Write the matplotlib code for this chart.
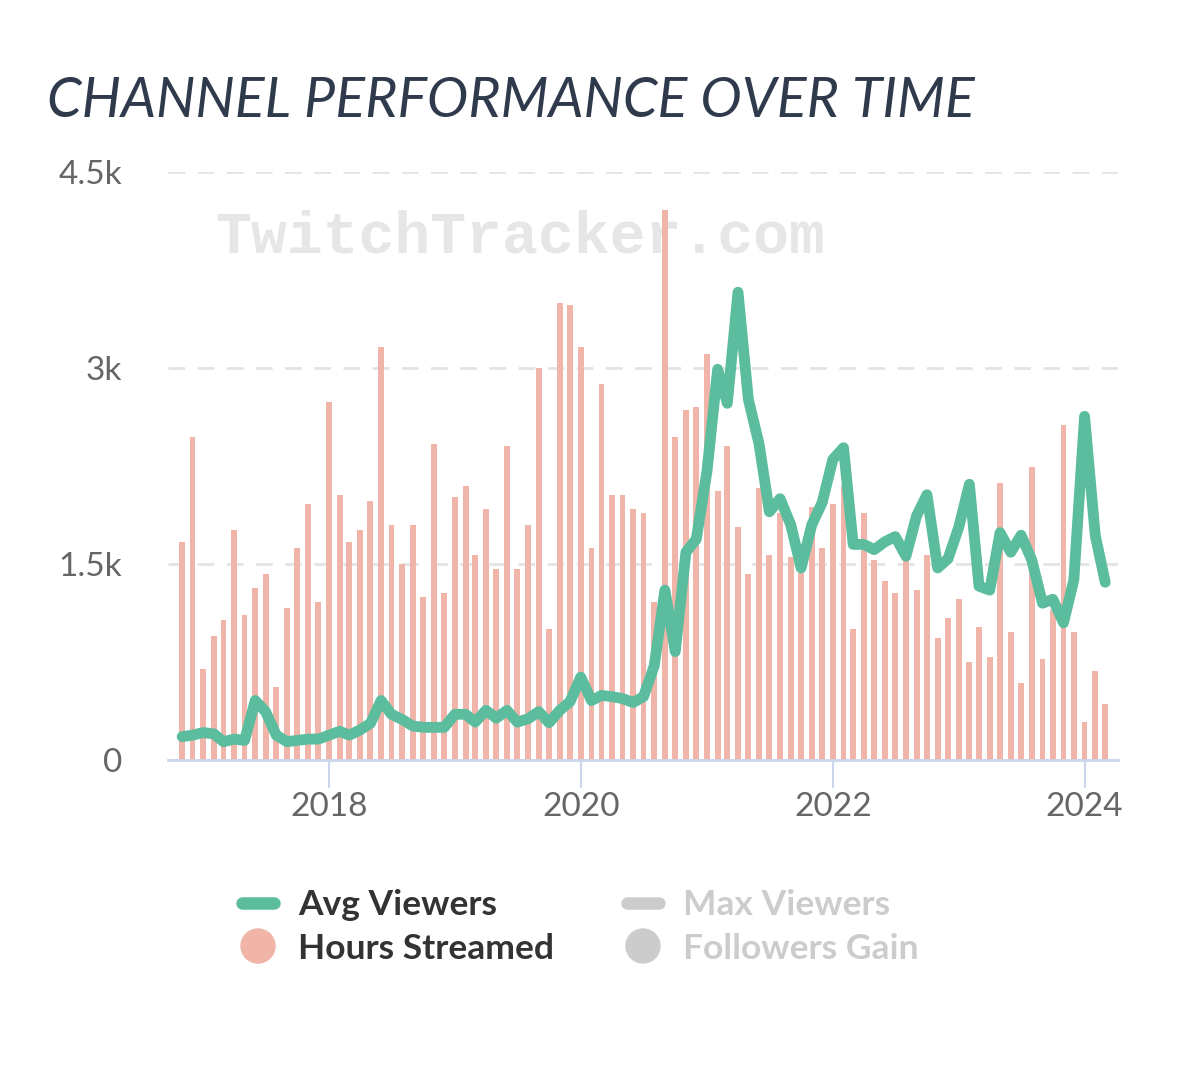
import matplotlib
matplotlib.use('Agg')
import matplotlib.pyplot as plt
import matplotlib.dates as mdates
from matplotlib.lines import Line2D
from matplotlib.patches import Ellipse
import pandas as pd
import datetime as dt

plt.rcParams['font.family'] = ['Lato', 'DejaVu Sans']

# monthly data, Nov 2016 .. Mar 2024
months = pd.date_range('2016-11-01', periods=89, freq='MS')
avg_viewers = [179, 190, 210, 200, 140, 160, 150, 455, 370, 190, 140, 150, 160, 160,
               190, 220, 190, 230, 280, 455, 350, 310, 260, 250, 250, 250, 350, 350,
               290, 380, 320, 380, 290, 315, 370, 285, 380, 447, 634, 455, 494, 485,
               470, 440, 485, 720, 1300, 830, 1590, 1690, 2210, 2990, 2730, 3580, 2760,
               2420, 1900, 2000, 1800, 1470, 1800, 1970, 2300, 2390, 1650, 1650, 1610,
               1670, 1710, 1560, 1870, 2030, 1470, 1540, 1780, 2110, 1330, 1300, 1740,
               1590, 1720, 1530, 1200, 1230, 1050, 1380, 2630, 1720, 1360]
hours_streamed = [167, 247, 70, 95, 107, 176, 111, 132, 142, 56, 116, 162, 196, 121,
                  274, 203, 167, 176, 198, 316, 180, 150, 180, 125, 242, 128, 201, 210,
                  157, 192, 146, 240, 146, 180, 300, 100, 350, 348, 316, 162, 288, 203,
                  203, 192, 189, 121, 421, 247, 268, 270, 311, 206, 240, 178, 142, 208,
                  157, 189, 155, 143, 194, 162, 196, 210, 100, 189, 153, 137, 128, 153,
                  130, 157, 93, 109, 123, 75, 102, 79, 212, 98, 59, 224, 77, 115, 256,
                  98, 29, 68, 43]
year_ticks = ['2018', '2020', '2022', '2024']
y_ticks = [0, 1500, 3000, 4500]
y_labels = ['0', '1.5k', '3k', '4.5k']

W, H = 1179, 1075
fig = plt.figure(figsize=(W / 100, H / 100), dpi=100)
fig.patch.set_facecolor('white')

green = '#5bbd9e'
salmon = '#f0b4a9'
axis_clr = '#ccd6eb'

ax_h = fig.add_axes([168 / W, 1 - 760 / H, (1118 - 168) / W, (760 - 172) / H])
ax_v = ax_h.twinx()

# hours streamed (hidden scale)
ax_h.bar(months, hours_streamed, width=17, color=salmon, zorder=1)
ax_h.set_ylim(0, 450)
ax_h.set_yticks([0, 150, 300, 450])
ax_h.yaxis.set_tick_params(length=0, labelleft=False, labelright=False)
ax_h.grid(axis='y', color='#e3e3e3', linewidth=2, dashes=(6, 4.5))
ax_h.set_axisbelow(True)

ax_h.text(520 / W, 1 - 237 / H, 'TwitchTracker.com', transform=fig.transFigure,
          ha='center', va='center', fontsize=43, fontweight='bold',
          family='Liberation Mono', color='#e6e6e6', zorder=0.8, clip_on=False)

# avg viewers
ax_v.plot(months, avg_viewers, color=green, linewidth=7.8, solid_joinstyle='round',
          solid_capstyle='round', zorder=3, clip_on=False)
ax_v.set_ylim(0, 4500)
ax_v.yaxis.tick_left()
ax_v.set_yticks(y_ticks)
ax_v.set_yticklabels(y_labels)
ax_v.tick_params(axis='y', length=0, pad=33, labelsize=24, labelcolor='#666666')

ax_h.set_xlim(mdates.date2num(dt.datetime(2016, 9, 21)), mdates.date2num(dt.datetime(2024, 4, 7)))
ax_h.set_xticks([mdates.date2num(dt.datetime(int(y), 1, 1)) for y in year_ticks])
ax_h.set_xticklabels(year_ticks)
ax_h.tick_params(axis='x', length=20, width=1.5, color=axis_clr, pad=3,
                 labelsize=24, labelcolor='#666666')

for a in (ax_h, ax_v):
    for s in a.spines.values():
        s.set_visible(False)
ax_h.spines['bottom'].set_visible(True)
ax_h.spines['bottom'].set_color(axis_clr)
ax_h.spines['bottom'].set_linewidth(2)

# title
fig.text(47 / W, 1 - 117 / H, 'CHANNEL PERFORMANCE OVER TIME', ha='left', va='baseline',
         fontsize=40, fontstyle='italic', color='#2f3b4c')

# legend
def leg_line(x0, x1, y, c):
    fig.add_artist(Line2D([x0 / W, x1 / W], [1 - y / H, 1 - y / H], color=c,
                          linewidth=9, solid_capstyle='round'))

def leg_dot(x, y, c):
    fig.add_artist(Ellipse((x / W, 1 - y / H), 34 / W, 34 / H, color=c,
                           transform=fig.transFigure))

leg_line(242, 274, 903, green)
leg_line(627, 659, 903, '#cccccc')
leg_dot(258, 946, salmon)
leg_dot(643, 946, '#cccccc')
fs = 25.5
fig.text(298 / W, 1 - 915 / H, 'Avg Viewers', ha='left', va='baseline', fontsize=fs,
         fontweight='bold', color='#333333')
fig.text(298 / W, 1 - 959 / H, 'Hours Streamed', ha='left', va='baseline', fontsize=fs,
         fontweight='bold', color='#333333')
fig.text(683 / W, 1 - 915 / H, 'Max Viewers', ha='left', va='baseline', fontsize=fs,
         fontweight='bold', color='#cccccc')
fig.text(683 / W, 1 - 959 / H, 'Followers Gain', ha='left', va='baseline', fontsize=fs,
         fontweight='bold', color='#cccccc')

fig.savefig('out.png', dpi=100, facecolor='white')
